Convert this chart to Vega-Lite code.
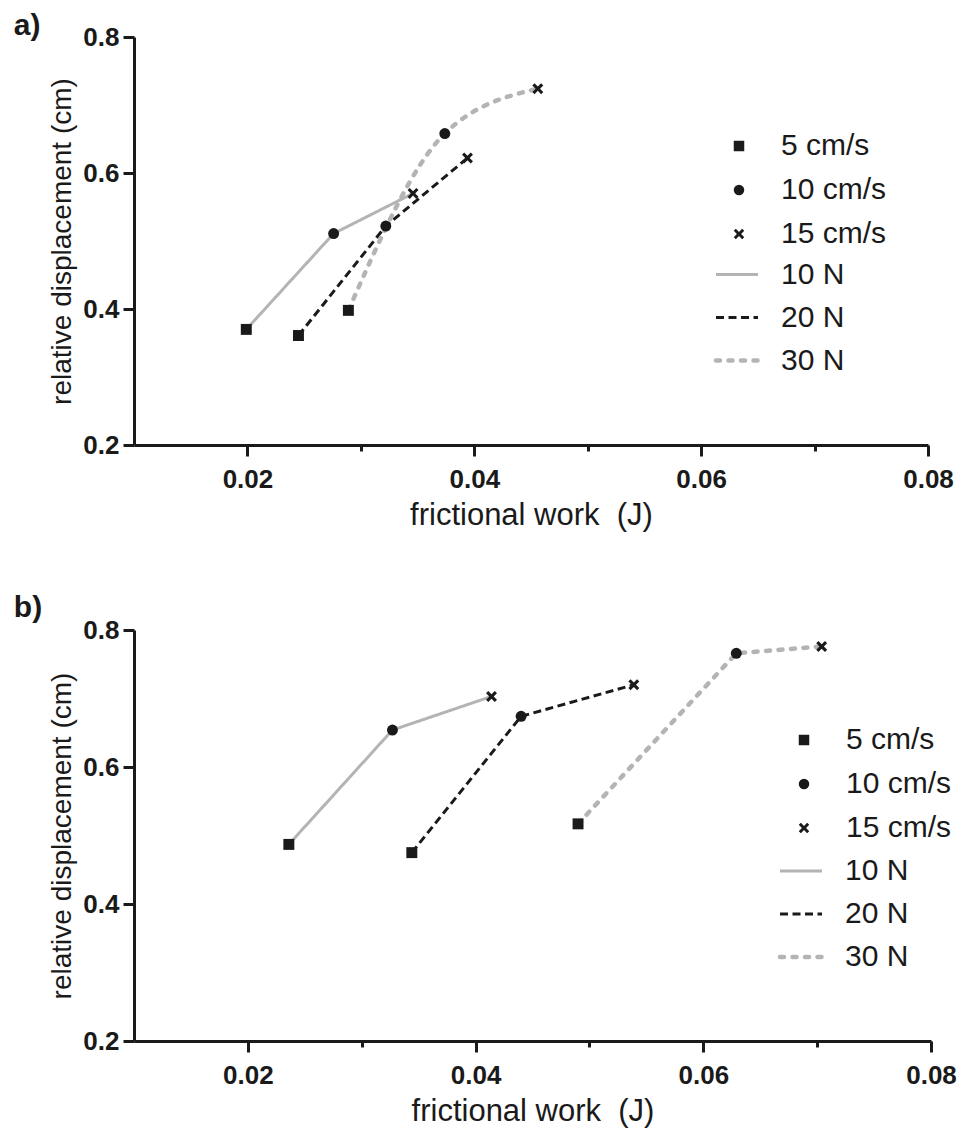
{
  "$schema": "https://vega.github.io/schema/vega-lite/v6.json",
  "background": "white",
  "padding": {"left": 13, "top": 11, "right": 5, "bottom": 5},
  "config": {
    "font": "Liberation Sans",
    "view": {"stroke": null},
    "axis": {
      "grid": false,
      "domainColor": "#1a1a1a", "domainWidth": 3,
      "tickColor": "#1a1a1a", "tickWidth": 3,
      "labelFont": "Liberation Sans", "labelFontWeight": "bold", "labelFontSize": 26, "labelColor": "#1a1a1a",
      "titleFont": "Liberation Sans", "titleFontWeight": "normal", "titleFontSize": 30, "titleColor": "#1a1a1a"
    },
    "legend": {
      "labelFont": "Liberation Sans", "labelFontSize": 30, "labelColor": "#1a1a1a",
      "padding": 0, "offset": 0, "title": null, "labelLimit": 300
    },
    "title": {"font": "Liberation Sans", "fontSize": 30, "fontWeight": "bold", "color": "#1a1a1a"}
  },
  "datasets": {
    "a": [
      {"force": "10 N", "speed": "5 cm/s", "work": 0.0199, "disp": 0.370},
      {"force": "10 N", "speed": "10 cm/s", "work": 0.0276, "disp": 0.511},
      {"force": "10 N", "speed": "15 cm/s", "work": 0.0346, "disp": 0.570},
      {"force": "20 N", "speed": "5 cm/s", "work": 0.0245, "disp": 0.361},
      {"force": "20 N", "speed": "10 cm/s", "work": 0.0322, "disp": 0.522},
      {"force": "20 N", "speed": "15 cm/s", "work": 0.0394, "disp": 0.622},
      {"force": "30 N", "speed": "5 cm/s", "work": 0.0289, "disp": 0.398},
      {"force": "30 N", "speed": "10 cm/s", "work": 0.0374, "disp": 0.658},
      {"force": "30 N", "speed": "15 cm/s", "work": 0.0456, "disp": 0.724}
    ],
    "b": [
      {"force": "10 N", "speed": "5 cm/s", "work": 0.0236, "disp": 0.487},
      {"force": "10 N", "speed": "10 cm/s", "work": 0.0327, "disp": 0.654},
      {"force": "10 N", "speed": "15 cm/s", "work": 0.0414, "disp": 0.703},
      {"force": "20 N", "speed": "5 cm/s", "work": 0.0344, "disp": 0.475},
      {"force": "20 N", "speed": "10 cm/s", "work": 0.0440, "disp": 0.674},
      {"force": "20 N", "speed": "15 cm/s", "work": 0.0539, "disp": 0.720},
      {"force": "30 N", "speed": "5 cm/s", "work": 0.0490, "disp": 0.517},
      {"force": "30 N", "speed": "10 cm/s", "work": 0.0629, "disp": 0.766},
      {"force": "30 N", "speed": "15 cm/s", "work": 0.0704, "disp": 0.776}
    ]
  },
  "align": "none",
  "spacing": 63,
  "resolve": {
    "scale": {"color": "independent", "strokeDash": "independent", "shape": "independent"},
    "legend": {"color": "independent", "strokeDash": "independent", "shape": "independent"}
  },
  "vconcat": [
    {
      "data": {"name": "a"},
      "title": {"text": "a)", "anchor": "start", "frame": "bounds", "dx": -35, "offset": -41, "baseline": "alphabetic"},
      "width": 794,
      "height": 408,
      "encoding": {
        "x": {"field": "work", "type": "quantitative",
          "scale": {"domain": [0.01, 0.08], "nice": false, "zero": false},
          "axis": {"title": "frictional work\u00a0 (J)", "titleFontSize": 31, "values": [0.02, 0.03, 0.04, 0.05, 0.06, 0.07, 0.08],
            "labelExpr": "round(datum.value*100) % 2 == 0 ? format(datum.value, '.2f') : ''",
            "tickSize": {"condition": {"test": "round(datum.value*100) % 2 == 0", "value": 11}, "value": 6},
            "labelPadding": 10, "titlePadding": 8, "labelFlush": false}},
        "y": {"field": "disp", "type": "quantitative",
          "scale": {"domain": [0.2, 0.8], "nice": false, "zero": false},
          "axis": {"title": "relative displacement (cm)", "titleFontSize": 28, "values": [0.2, 0.4, 0.6, 0.8], "format": ".1f",
            "tickSize": 11, "labelPadding": 4, "titlePadding": 6, "labelFlush": false}}
      },
      "layer": [
        {
          "transform": [{"filter": "datum.force != '30 N'"}],
          "mark": {"type": "line", "strokeWidth": 3, "strokeCap": "butt"},
          "encoding": {
            "order": {"field": "work", "type": "quantitative"},
            "color": {"field": "force", "type": "nominal",
              "scale": {"domain": ["10 N", "20 N", "30 N"], "range": ["#b4b4b4", "#1a1a1a", "#b4b4b4"]},
              "legend": {"orient": "none", "legendX": 588, "legendY": 222.5, "symbolType": "stroke", "symbolSize": 1764, "symbolStrokeWidth": 3, "rowPadding": 13, "labelOffset": 29,
                "encode": {"symbols": {"update": {"strokeCap": {"signal": "datum.value === '30 N' ? 'round' : 'butt'"}, "strokeWidth": {"signal": "datum.value === '30 N' ? 4.5 : 3"}}}}}},
            "strokeDash": {"field": "force", "type": "nominal",
              "scale": {"domain": ["10 N", "20 N", "30 N"], "range": [[1, 0], [8, 4.5], [4, 8.5]]},
              "legend": {"orient": "none", "legendX": 588, "legendY": 222.5, "symbolType": "stroke", "symbolSize": 1764, "symbolStrokeWidth": 3, "rowPadding": 13, "labelOffset": 29,
                "encode": {"symbols": {"update": {"strokeCap": {"signal": "datum.value === '30 N' ? 'round' : 'butt'"}, "strokeWidth": {"signal": "datum.value === '30 N' ? 4.5 : 3"}}}}}}
          }
        },
        {
          "transform": [{"filter": "datum.force == '30 N'"}],
          "mark": {"type": "line", "strokeWidth": 4.5, "strokeCap": "round", "interpolate": "monotone"},
          "encoding": {
            "order": {"field": "work", "type": "quantitative"},
            "color": {"field": "force", "type": "nominal"},
            "strokeDash": {"field": "force", "type": "nominal"}
          }
        },
        {
          "mark": {"type": "point", "filled": true, "size": 120, "opacity": 1, "color": "#1a1a1a"},
          "encoding": {
            "shape": {"field": "speed", "type": "nominal",
              "scale": {"domain": ["5 cm/s", "10 cm/s", "15 cm/s"], "range": ["square", "circle", "M-1,-0.6L-0.6,-1L0,-0.4L0.6,-1L1,-0.6L0.4,0L1,0.6L0.6,1L0,0.4L-0.6,1L-1,0.6L-0.4,0Z"]},
              "legend": {"orient": "none", "legendX": 590, "legendY": 94, "symbolSize": 110, "rowPadding": 14, "labelOffset": 27, "symbolFillColor": "#1a1a1a", "symbolStrokeWidth": 0}}
          }
        }
      ]
    },
    {
      "data": {"name": "b"},
      "title": {"text": "b)", "anchor": "start", "frame": "bounds", "dx": -35, "offset": -30, "baseline": "alphabetic"},
      "width": 797,
      "height": 411,
      "encoding": {
        "x": {"field": "work", "type": "quantitative",
          "scale": {"domain": [0.01, 0.08], "nice": false, "zero": false},
          "axis": {"title": "frictional work\u00a0 (J)", "titleFontSize": 31, "values": [0.02, 0.03, 0.04, 0.05, 0.06, 0.07, 0.08],
            "labelExpr": "round(datum.value*100) % 2 == 0 ? format(datum.value, '.2f') : ''",
            "tickSize": {"condition": {"test": "round(datum.value*100) % 2 == 0", "value": 11}, "value": 6},
            "labelPadding": 10, "titlePadding": 8, "labelFlush": false}},
        "y": {"field": "disp", "type": "quantitative",
          "scale": {"domain": [0.2, 0.8], "nice": false, "zero": false},
          "axis": {"title": "relative displacement (cm)", "titleFontSize": 28, "values": [0.2, 0.4, 0.6, 0.8], "format": ".1f",
            "tickSize": 11, "labelPadding": 4, "titlePadding": 6, "labelFlush": false}}
      },
      "layer": [
        {
          "transform": [{"filter": "datum.force != '30 N'"}],
          "mark": {"type": "line", "strokeWidth": 3, "strokeCap": "butt"},
          "encoding": {
            "order": {"field": "work", "type": "quantitative"},
            "color": {"field": "force", "type": "nominal",
              "scale": {"domain": ["10 N", "20 N", "30 N"], "range": ["#b4b4b4", "#1a1a1a", "#b4b4b4"]},
              "legend": {"orient": "none", "legendX": 652, "legendY": 226, "symbolType": "stroke", "symbolSize": 1764, "symbolStrokeWidth": 3, "rowPadding": 13, "labelOffset": 29,
                "encode": {"symbols": {"update": {"strokeCap": {"signal": "datum.value === '30 N' ? 'round' : 'butt'"}, "strokeWidth": {"signal": "datum.value === '30 N' ? 4.5 : 3"}}}}}},
            "strokeDash": {"field": "force", "type": "nominal",
              "scale": {"domain": ["10 N", "20 N", "30 N"], "range": [[1, 0], [8, 4.5], [4, 8.5]]},
              "legend": {"orient": "none", "legendX": 652, "legendY": 226, "symbolType": "stroke", "symbolSize": 1764, "symbolStrokeWidth": 3, "rowPadding": 13, "labelOffset": 29,
                "encode": {"symbols": {"update": {"strokeCap": {"signal": "datum.value === '30 N' ? 'round' : 'butt'"}, "strokeWidth": {"signal": "datum.value === '30 N' ? 4.5 : 3"}}}}}}
          }
        },
        {
          "transform": [{"filter": "datum.force == '30 N'"}],
          "mark": {"type": "line", "strokeWidth": 4.5, "strokeCap": "round"},
          "encoding": {
            "order": {"field": "work", "type": "quantitative"},
            "color": {"field": "force", "type": "nominal"},
            "strokeDash": {"field": "force", "type": "nominal"}
          }
        },
        {
          "mark": {"type": "point", "filled": true, "size": 120, "opacity": 1, "color": "#1a1a1a"},
          "encoding": {
            "shape": {"field": "speed", "type": "nominal",
              "scale": {"domain": ["5 cm/s", "10 cm/s", "15 cm/s"], "range": ["square", "circle", "M-1,-0.6L-0.6,-1L0,-0.4L0.6,-1L1,-0.6L0.4,0L1,0.6L0.6,1L0,0.4L-0.6,1L-1,0.6L-0.4,0Z"]},
              "legend": {"orient": "none", "legendX": 655, "legendY": 95, "symbolSize": 110, "rowPadding": 14, "labelOffset": 27, "symbolFillColor": "#1a1a1a", "symbolStrokeWidth": 0}}
          }
        }
      ]
    }
  ]
}
